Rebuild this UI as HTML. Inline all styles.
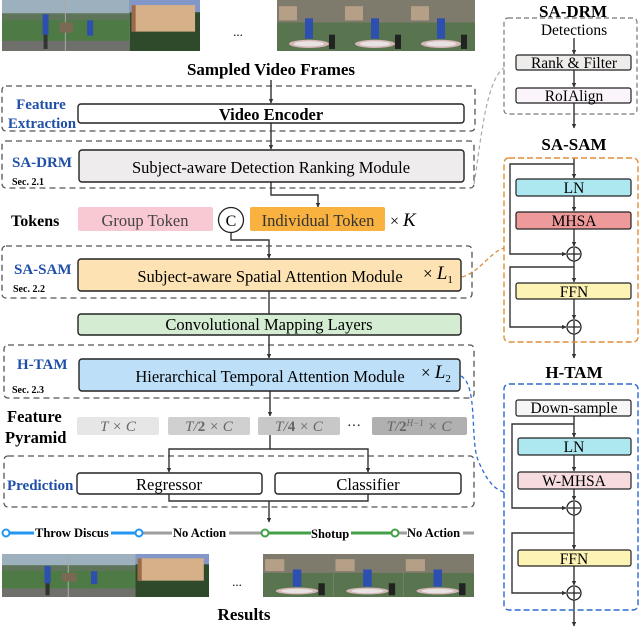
<!DOCTYPE html>
<html><head><meta charset="utf-8"><style>
html,body{margin:0;padding:0;background:#fff;}
svg{display:block;}
text{font-family:"Liberation Serif",serif;}
</style></head><body>
<svg width="640" height="629" viewBox="0 0 640 629" xmlns="http://www.w3.org/2000/svg">
<defs>
<marker id="ar" viewBox="0 0 10 10" refX="9" refY="5" markerWidth="3.2" markerHeight="3.2" orient="auto"><path d="M0,0 L10,5 L0,10 z" fill="#333"/></marker>
<symbol id="pa" viewBox="0 0 200 50" preserveAspectRatio="none">
<rect x="0" y="0" width="129" height="50" fill="#4d7a45"/>
<rect x="0" y="0" width="129" height="17" fill="#9db0bd"/>
<rect x="0" y="13" width="129" height="7" fill="#5e7559"/>
<rect x="0" y="40" width="129" height="10" fill="#6f706c"/>
<line x1="64" y1="0" x2="64" y2="50" stroke="#aaa" stroke-width="1"/>
<rect x="41" y="14" width="6" height="20" fill="#2c4fb0"/><rect x="42" y="34" width="4" height="14" fill="#333"/>
<rect x="86" y="20" width="6" height="15" fill="#2c4fb0"/><rect x="58" y="22" width="14" height="10" fill="#7a6a55"/>
<rect x="129" y="0" width="71" height="50" fill="#2f4a2b"/>
<rect x="129" y="0" width="71" height="12" fill="#8396c8"/>
<rect x="131" y="5" width="64" height="26" fill="#d5b088"/>
<rect x="131" y="5" width="4" height="26" fill="#9b6a4a"/>
</symbol>
<symbol id="pb" viewBox="0 0 198 50" preserveAspectRatio="none">
<g id="fb">
<rect x="0" y="0" width="66" height="50" fill="#597550"/>
<rect x="0" y="0" width="66" height="22" fill="#7e7a6c"/>
<rect x="2" y="6" width="18" height="14" fill="#b59f86"/>
<ellipse cx="32" cy="43" rx="20" ry="4" fill="#d6b8b8"/>
<ellipse cx="32" cy="43" rx="15" ry="2.5" fill="#e8e4e4"/>
<rect x="28" y="18" width="8" height="20" fill="#2c4fb0"/>
<rect x="52" y="34" width="6" height="14" fill="#222"/>
</g>
<use href="#fb" x="66"/><use href="#fb" x="132"/>
</symbol>
</defs>

<use href="#pa" x="2" y="0" width="198" height="51"/>
<use href="#pb" x="277" y="0" width="198" height="51"/>
<text x="238" y="36" font-size="13" text-anchor="middle">...</text>
<text x="271" y="75" font-size="17" font-weight="bold" text-anchor="middle">Sampled Video Frames</text>

<g fill="none" stroke="#555" stroke-width="1.3" stroke-dasharray="6,4">
<rect x="2" y="86" width="473" height="45" rx="4"/>
<rect x="2" y="141" width="472" height="47" rx="4"/>
<rect x="2" y="246" width="470" height="52" rx="4"/>
<rect x="4" y="345" width="470" height="53" rx="4"/>
<rect x="4" y="456" width="470" height="51" rx="4"/>
</g>

<g stroke="#333" stroke-width="1.4" fill="none">
<line x1="271" y1="80" x2="271" y2="103" marker-end="url(#ar)"/>
<line x1="271" y1="123" x2="271" y2="149" marker-end="url(#ar)"/>
<polyline points="271,182 271,195 318,195 318,207" marker-end="url(#ar)"/>
<polyline points="231,233 231,240 269,240 269,258" marker-end="url(#ar)"/>
<line x1="269" y1="291" x2="269" y2="314"/>
<line x1="269" y1="335" x2="269" y2="358" marker-end="url(#ar)"/>
<line x1="270" y1="391" x2="270" y2="416" marker-end="url(#ar)"/>
<polyline points="270,435 270,449 169,449 169,472" marker-end="url(#ar)"/>
<polyline points="270,449 368,449 368,472" marker-end="url(#ar)"/>
<polyline points="169,494 169,501 368,501 368,494"/>
<line x1="269" y1="501" x2="269" y2="522" marker-end="url(#ar)"/>
</g>

<text x="41" y="109" font-size="15" font-weight="bold" fill="#1f4fa8" text-anchor="middle">Feature</text>
<text x="42" y="128" font-size="15" font-weight="bold" fill="#1f4fa8" text-anchor="middle">Extraction</text>
<rect x="78" y="104" width="386" height="19" rx="3" fill="#fff" stroke="#222" stroke-width="1.4"/>
<text x="271" y="120" font-size="16.5" font-weight="bold" text-anchor="middle">Video Encoder</text>

<text x="12" y="167" font-size="15" font-weight="bold" fill="#1f4fa8">SA-DRM</text>
<text x="12" y="185" font-size="10" font-weight="bold">Sec. 2.1</text>
<rect x="79" y="150" width="385" height="32" rx="3" fill="#eeeced" stroke="#222" stroke-width="1.4"/>
<text x="271" y="173" font-size="16.5" text-anchor="middle">Subject-aware Detection Ranking Module</text>

<text x="11" y="226" font-size="16" font-weight="bold">Tokens</text>
<rect x="78" y="207" width="135" height="24" rx="2" fill="#f9c9d3"/>
<text x="145" y="226" font-size="16.5" fill="#444" text-anchor="middle">Group Token</text>
<circle cx="231" cy="220" r="12.5" fill="#fff" stroke="#222" stroke-width="1.3"/>
<text x="231" y="226" font-size="16" text-anchor="middle" font-family="Liberation Sans">C</text>
<rect x="250" y="207" width="135" height="24" rx="2" fill="#f9b240"/>
<text x="318" y="226" font-size="16.5" fill="#333" text-anchor="middle">Individual Token</text>
<text x="390" y="226" font-size="16">× <tspan font-style="italic" font-size="19">K</tspan></text>

<text x="14" y="274" font-size="15" font-weight="bold" fill="#1f4fa8">SA-SAM</text>
<text x="13" y="292" font-size="10" font-weight="bold">Sec. 2.2</text>
<rect x="78" y="259" width="383" height="32" rx="3" fill="#fde2b3" stroke="#222" stroke-width="1.4"/>
<text x="270" y="282" font-size="16.5" text-anchor="middle">Subject-aware Spatial Attention Module</text>
<text x="423" y="279" font-size="17">× <tspan font-style="italic" font-size="19">L</tspan><tspan font-size="11" dy="4">1</tspan></text>

<rect x="78" y="314" width="383" height="21" rx="3" fill="#d4edd2" stroke="#222" stroke-width="1.4"/>
<text x="269" y="330" font-size="16.5" text-anchor="middle">Convolutional Mapping Layers</text>

<text x="17" y="369" font-size="15" font-weight="bold" fill="#1f4fa8">H-TAM</text>
<text x="12" y="393" font-size="10" font-weight="bold">Sec. 2.3</text>
<rect x="79" y="359" width="381" height="32" rx="3" fill="#bde0f8" stroke="#222" stroke-width="1.4"/>
<text x="270" y="382" font-size="16.5" text-anchor="middle">Hierarchical  Temporal Attention Module</text>
<text x="421" y="378" font-size="17">× <tspan font-style="italic" font-size="19">L</tspan><tspan font-size="11" dy="4">2</tspan></text>

<text x="7" y="422" font-size="16.5" font-weight="bold">Feature</text>
<text x="5" y="443" font-size="16.5" font-weight="bold">Pyramid</text>
<rect x="77" y="417" width="82" height="18" rx="2" fill="#e6e6e6"/>
<rect x="168" y="417" width="82" height="18" rx="2" fill="#d0d0d0"/>
<rect x="258" y="417" width="82" height="18" rx="2" fill="#c8c8c8"/>
<rect x="372" y="417" width="95" height="18" rx="2" fill="#b0b0b0"/>
<g font-size="15" fill="#666" text-anchor="middle" font-style="italic">
<text x="118" y="431">T × C</text>
<text x="209" y="431">T/<tspan font-weight="bold" font-style="normal">2</tspan> × C</text>
<text x="299" y="431">T/<tspan font-weight="bold" font-style="normal">4</tspan> × C</text>
<text x="419" y="431">T/<tspan font-weight="bold" font-style="normal">2</tspan><tspan font-size="9" dy="-5">H−1</tspan><tspan dy="5"> × C</tspan></text>
</g>
<text x="354" y="430" font-size="14" text-anchor="middle">···</text>

<text x="7" y="490" font-size="15" font-weight="bold" fill="#1f4fa8">Prediction</text>
<rect x="77" y="473" width="185" height="21" rx="3" fill="#fff" stroke="#222" stroke-width="1.4"/>
<text x="169" y="490" font-size="16.5" text-anchor="middle">Regressor</text>
<rect x="275" y="473" width="186" height="21" rx="3" fill="#fff" stroke="#222" stroke-width="1.4"/>
<text x="368" y="490" font-size="16.5" text-anchor="middle">Classifier</text>

<g stroke-width="3">
<line x1="5" y1="533" x2="139" y2="533" stroke="#2196f3"/>
<line x1="139" y1="533" x2="265" y2="533" stroke="#9e9e9e"/>
<line x1="265" y1="533" x2="395" y2="533" stroke="#43a047"/>
<line x1="395" y1="533" x2="474" y2="533" stroke="#9e9e9e"/>
</g>
<g fill="#fff" stroke-width="2">
<circle cx="6" cy="533" r="3.5" stroke="#2196f3"/><circle cx="139" cy="533" r="3.5" stroke="#2196f3"/>
<circle cx="265" cy="533" r="3.5" stroke="#43a047"/><circle cx="395" cy="533" r="3.5" stroke="#43a047"/>
</g>
<g font-size="12.5" font-weight="bold">
<rect x="34" y="525" width="77" height="14" fill="#fff"/><text x="35" y="537">Throw Discus</text>
<rect x="172" y="525" width="57" height="14" fill="#fff"/><text x="173" y="537">No Action</text>
<rect x="311" y="525" width="40" height="14" fill="#fff"/><text x="311" y="538">Shotup</text>
<rect x="407" y="525" width="56" height="14" fill="#fff"/><text x="407" y="537">No Action</text>
</g>

<use href="#pa" x="2" y="554" width="207" height="43"/>
<use href="#pb" x="263" y="554" width="211" height="43"/>
<text x="237" y="586" font-size="13" text-anchor="middle">...</text>
<text x="244" y="620" font-size="17" font-weight="bold" text-anchor="middle">Results</text>

<path d="M474,184 C480,150 485,80 504,68" fill="none" stroke="#aaa" stroke-width="1.2" stroke-dasharray="4,3"/>
<path d="M462,277 C480,272 490,252 504,248" fill="none" stroke="#d98c3c" stroke-width="1.3" stroke-dasharray="4,3"/>
<path d="M461,376 C478,385 470,440 478,460 C486,480 495,490 504,492" fill="none" stroke="#2c6ad0" stroke-width="1.3" stroke-dasharray="4,3"/>

<text x="573" y="17" font-size="17" font-weight="bold" text-anchor="middle">SA-DRM</text>
<rect x="504" y="18" width="133" height="96" rx="4" fill="none" stroke="#777" stroke-width="1.2" stroke-dasharray="5,3"/>
<text x="574" y="35" font-size="15.5" text-anchor="middle">Detections</text>
<g stroke="#333" stroke-width="1.4" fill="none">
<line x1="574" y1="38" x2="574" y2="54" marker-end="url(#ar)"/>
<line x1="574" y1="70" x2="574" y2="87" marker-end="url(#ar)"/>
<line x1="574" y1="103" x2="574" y2="128" marker-end="url(#ar)"/>
<line x1="574" y1="158" x2="574" y2="178" marker-end="url(#ar)"/>
<line x1="574" y1="196" x2="574" y2="211" marker-end="url(#ar)"/>
<line x1="574" y1="229" x2="574" y2="246" marker-end="url(#ar)"/>
<polyline points="574,164 510,164 510,254 566,254" marker-end="url(#ar)"/>
<line x1="574" y1="261" x2="574" y2="282" marker-end="url(#ar)"/>
<polyline points="574,267 510,267 510,327 566,327" marker-end="url(#ar)"/>
<line x1="574" y1="299" x2="574" y2="319" marker-end="url(#ar)"/>
<line x1="574" y1="334" x2="574" y2="358" marker-end="url(#ar)"/>
<line x1="574" y1="416" x2="574" y2="437" marker-end="url(#ar)"/>
<line x1="574" y1="455" x2="574" y2="471" marker-end="url(#ar)"/>
<line x1="574" y1="489" x2="574" y2="500" marker-end="url(#ar)"/>
<polyline points="574,424 512,424 512,508 566,508" marker-end="url(#ar)"/>
<line x1="574" y1="515" x2="574" y2="549" marker-end="url(#ar)"/>
<polyline points="574,533 512,533 512,593 566,593" marker-end="url(#ar)"/>
<line x1="574" y1="566" x2="574" y2="585" marker-end="url(#ar)"/>
<line x1="574" y1="600" x2="574" y2="626" marker-end="url(#ar)"/>
</g>
<rect x="516" y="55" width="115" height="15" rx="2" fill="#efedec" stroke="#222" stroke-width="1.2"/>
<text x="574" y="68" font-size="15.5" text-anchor="middle">Rank &amp; Filter</text>
<rect x="516" y="88" width="115" height="15" rx="2" fill="#fbf4fa" stroke="#222" stroke-width="1.2"/>
<text x="574" y="101" font-size="15.5" text-anchor="middle">RoIAlign</text>

<text x="574" y="150" font-size="17" font-weight="bold" text-anchor="middle">SA-SAM</text>
<rect x="504" y="158" width="134" height="184" rx="5" fill="none" stroke="#e08e3a" stroke-width="1.4" stroke-dasharray="6,3"/>
<rect x="516" y="179" width="115" height="17" rx="2" fill="#ade7f0" stroke="#222" stroke-width="1.2"/>
<text x="574" y="193" font-size="15.5" text-anchor="middle">LN</text>
<rect x="516" y="212" width="115" height="17" rx="2" fill="#ee9a9a" stroke="#222" stroke-width="1.2"/>
<text x="574" y="226" font-size="15.5" text-anchor="middle">MHSA</text>
<rect x="516" y="283" width="115" height="16" rx="2" fill="#fcf3b5" stroke="#222" stroke-width="1.2"/>
<text x="574" y="297" font-size="15.5" text-anchor="middle">FFN</text>

<text x="574" y="378" font-size="17" font-weight="bold" text-anchor="middle">H-TAM</text>
<rect x="504" y="384" width="134" height="226" rx="5" fill="none" stroke="#2c6ad0" stroke-width="1.4" stroke-dasharray="6,3"/>
<rect x="516" y="400" width="115" height="16" rx="2" fill="#f6f6f6" stroke="#222" stroke-width="1.2"/>
<text x="574" y="413" font-size="15.5" text-anchor="middle">Down-sample</text>
<rect x="518" y="438" width="113" height="17" rx="2" fill="#ade7f0" stroke="#222" stroke-width="1.2"/>
<text x="574" y="452" font-size="15.5" text-anchor="middle">LN</text>
<rect x="518" y="472" width="113" height="17" rx="2" fill="#f6dcde" stroke="#222" stroke-width="1.2"/>
<text x="574" y="486" font-size="15.5" text-anchor="middle">W-MHSA</text>
<rect x="518" y="550" width="113" height="16" rx="2" fill="#fcf3b5" stroke="#222" stroke-width="1.2"/>
<text x="574" y="564" font-size="15.5" text-anchor="middle">FFN</text>

<g fill="#fff" stroke="#222" stroke-width="1.3">
<circle cx="574" cy="254" r="7"/><circle cx="574" cy="327" r="7"/>
<circle cx="574" cy="508" r="7"/><circle cx="574" cy="593" r="7"/>
</g>
<g stroke="#222" stroke-width="1.3">
<path d="M568,254h12M574,248v12"/><path d="M568,327h12M574,321v12"/>
<path d="M568,508h12M574,502v12"/><path d="M568,593h12M574,587v12"/>
</g>
</svg>
</body></html>
